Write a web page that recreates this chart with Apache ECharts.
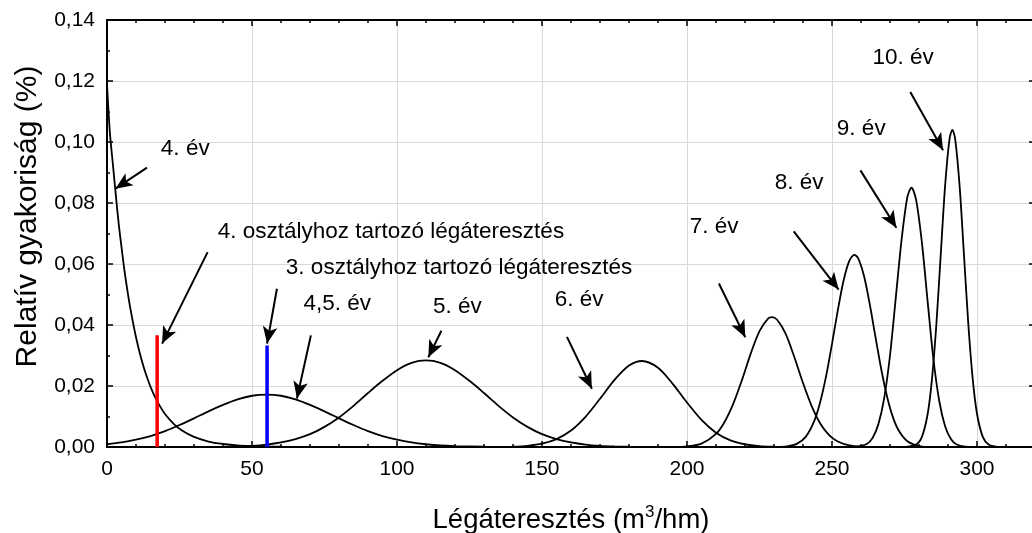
<!DOCTYPE html>
<html>
<head>
<meta charset="utf-8">
<script src="https://cdn.jsdelivr.net/npm/echarts@6/dist/echarts.min.js"></script>
<style>
html,body{margin:0;padding:0;background:#fff;}
#chart{width:1032px;height:533px;}
</style>
</head>
<body>
<div id="chart"></div>
<script>
// ---- data ----
const curve4X  = [0,1,2,3,4,5,6,7,8,10,12,14,16,18,20,23,26,30,35,40,45,50,55,60,70];
const curve4Y  = [0.119,0.103,0.093,0.083,0.0735,0.0655,0.058,0.0515,0.0457,0.036,0.0283,0.0223,0.0175,0.0138,0.0108,0.0076,0.0053,0.0033,0.0018,0.001,0.0005,0.0003,0.0002,0.0001,0];

const curve45X = [0,5,10,15,20,25,30,35,40,45,50,55,60,65,70,75,80,85,90,95,100,105,110,115,120,130,140];
const curve45Y = [0.0009,0.0015,0.0024,0.0036,0.0052,0.0072,0.0094,0.0117,0.0138,0.0156,0.0168,0.0172,0.0168,0.0156,0.0138,0.0117,0.0094,0.0072,0.0052,0.0036,0.0024,0.0015,0.0009,0.0005,0.0003,0.0001,0];

const curve5X  = [40,45,50,55,60,65,70,75,80,85,90,95,100,105,110,115,120,125,130,135,140,145,150,155,160,165,170,175,180];
const curve5Y  = [0.0001,0.0002,0.0004,0.0008,0.0015,0.0026,0.0042,0.0066,0.0097,0.0135,0.0177,0.0217,0.0252,0.0276,0.0284,0.0276,0.0252,0.0217,0.0177,0.0135,0.0097,0.0066,0.0042,0.0026,0.0015,0.0008,0.0004,0.0002,0.0001];

const curve6X  = [140,145,150,155,160,165,170,175,180,184.5,190,195,200,205,210,215,220,225,230,235];
const curve6Y  = [0.0001,0.0004,0.0011,0.0026,0.0054,0.0099,0.0158,0.022,0.0267,0.0282,0.026,0.0208,0.0146,0.0089,0.0047,0.0022,0.0009,0.0003,0.0001,0];

const curve7X  = [195,200,205,210,213,216,219,222,225,228,229.3,231,234,237,240,243,246,249,252,256,260];
const curve7Y  = [0,0.0002,0.0011,0.0043,0.0083,0.0143,0.0221,0.0307,0.038,0.0422,0.0426,0.0418,0.0372,0.0295,0.021,0.0134,0.0076,0.0039,0.0018,0.0005,0.0001];

const curve8X  = [232,235,238,241,244,246,248,250,252,254,256,257.7,259,261,263,265,267,269,271,273,276,280,284];
const curve8Y  = [0,0.0003,0.0011,0.0034,0.0088,0.015,0.0234,0.0338,0.0448,0.0546,0.0611,0.063,0.0619,0.0562,0.0469,0.036,0.0254,0.0165,0.0098,0.0054,0.0019,0.0003,0];

const curve9X  = [258,262,264,266,268,270,272,274,276,277.4,279,281,283,285,287,289,291,293,296,299];
const curve9Y  = [0,0.001,0.003,0.0075,0.016,0.03,0.049,0.068,0.082,0.085,0.081,0.067,0.0475,0.0286,0.015,0.0068,0.0026,0.0008,0.0001,0];

const curve10X = [275,279,281,283,284.5,286,287.5,289,290.5,291.5,292.5,294,295.5,297,298.5,300,302,304,307];
const curve10Y = [0,0.0008,0.0033,0.0109,0.0225,0.0404,0.0631,0.0856,0.1008,0.104,0.1008,0.0856,0.0631,0.0404,0.0225,0.0109,0.0033,0.0008,0];

// class limits (vertical coloured bars): [x, height]
const class4Limit = [17.3, 0.0366];
const class3Limit = [55.2, 0.0333];

// annotation texts and anchors (data units)
const labelTexts = ['4. év','4. osztályhoz tartozó légáteresztés','3. osztályhoz tartozó légáteresztés','4,5. év','5. év','6. év','7. év','8. év','9. év','10. év'];
const labelX     = [18.4, 38.0, 61.5, 67.6, 112.2, 154.2, 200.8, 230.1, 251.5, 263.8];
const labelY     = [0.0979, 0.0704, 0.0586, 0.0468, 0.0461, 0.0481, 0.0723, 0.0866, 0.1042, 0.1276];
// arrows: from (x1,y1) to (x2,y2)
const arrowX1 = [13.8, 34.7, 58.6, 70.3, 115.3, 158.6, 211.0, 236.8, 259.8, 277.0];
const arrowY1 = [0.0916, 0.0639, 0.0519, 0.0366, 0.0381, 0.0361, 0.0536, 0.0707, 0.0907, 0.1164];
const arrowX2 = [2.9, 19.0, 55.2, 65.5, 110.8, 167.2, 220.1, 252.3, 272.2, 288.3];
const arrowY2 = [0.0847, 0.0339, 0.0339, 0.0159, 0.0294, 0.0191, 0.0360, 0.0516, 0.0719, 0.0973];

const xTicks = [0, 320, 50, 10];     // min, max, major, minor
const yTicks = [0, 0.14, 0.02, 0.01];

// ---- chart ----
const FONT = '"Liberation Sans", Arial, sans-serif';
const zip = (xs, ys) => xs.map((x, i) => [x, ys[i]]);
const curves = [
  [curve4X, curve4Y], [curve45X, curve45Y], [curve5X, curve5Y], [curve6X, curve6Y],
  [curve7X, curve7Y], [curve8X, curve8Y], [curve9X, curve9Y], [curve10X, curve10Y]
];

function xAx(pos, interval, major, withLabels) {
  return {
    type: 'value', position: pos, min: xTicks[0], max: xTicks[1], interval: interval,
    axisLine: { show: major, onZero: false, lineStyle: { color: '#000', width: 2 } },
    axisTick: { show: true, inside: true, length: major ? 6 : 3, lineStyle: { color: '#000', width: 1.5 } },
    axisLabel: withLabels ? { show: true, color: '#000', fontSize: 21, fontFamily: FONT, margin: 12, showMaxLabel: false } : { show: false },
    splitLine: { show: withLabels, lineStyle: { color: '#d9d9d9', width: 1 } },
    name: withLabels ? 'Légáteresztés (m{sup|3}/hm)' : '',
    nameLocation: 'middle', nameGap: 57,
    nameTextStyle: { color: '#000', fontSize: 27.5, fontFamily: FONT,
      rich: { sup: { fontSize: 17, verticalAlign: 'top', padding: [0, 0, 15, 0], color: '#000', fontFamily: FONT } } }
  };
}
function yAx(pos, interval, major, withLabels) {
  return {
    type: 'value', position: pos, min: yTicks[0], max: yTicks[1], interval: interval,
    axisLine: { show: major, onZero: false, lineStyle: { color: '#000', width: 2 } },
    axisTick: { show: true, inside: true, length: major ? 6 : 3, lineStyle: { color: '#000', width: 1.5 } },
    axisLabel: withLabels ? { show: true, color: '#000', fontSize: 21, fontFamily: FONT, margin: 12,
      formatter: v => v.toFixed(2).replace('.', ',') } : { show: false },
    splitLine: { show: withLabels, lineStyle: { color: '#d9d9d9', width: 1 } },
    name: withLabels ? 'Relatív gyakoriság (%)' : '',
    nameLocation: 'middle', nameGap: 63,
    nameTextStyle: { color: '#000', fontSize: 30, fontFamily: FONT, padding: [0, 0, 0, 34] }
  };
}

const series = curves.map(c => ({
  type: 'line', data: zip(c[0], c[1]), showSymbol: false, symbol: 'none',
  smooth: 0.3, lineStyle: { color: '#000', width: 1.8 }, silent: true, z: 3
}));
series.push({
  type: 'line', data: [[class4Limit[0], 0], [class4Limit[0], class4Limit[1]]], symbol: 'none',
  lineStyle: { color: '#ff0000', width: 3.5 }, z: 4
});
series.push({
  type: 'line', data: [[class3Limit[0], 0], [class3Limit[0], class3Limit[1]]], symbol: 'none',
  lineStyle: { color: '#0000ff', width: 3.5 }, z: 4
});
series.push({
  type: 'line', data: [], symbol: 'none', z: 5,
  markLine: {
    silent: true, animation: false, symbol: ['none', 'arrow'], symbolSize: [11, 17],
    label: { show: false },
    lineStyle: { color: '#000', width: 2, type: 'solid' },
    emphasis: { disabled: true },
    data: arrowX1.map((x, i) => [{ coord: [x, arrowY1[i]] }, { coord: [arrowX2[i], arrowY2[i]] }])
  }
});
series.push({
  type: 'scatter', data: labelTexts.map((t, i) => [labelX[i], labelY[i], t]),
  symbolSize: 1, itemStyle: { color: 'rgba(0,0,0,0)' }, silent: true, z: 6,
  label: { show: true, position: 'right', distance: 0, formatter: p => p.data[2], opacity: 1,
    color: '#000', fontSize: 22.5, fontFamily: FONT, verticalAlign: 'middle' }
});

const chart = echarts.init(document.getElementById('chart'), null, { renderer: 'canvas' });
chart.setOption({
  animation: false,
  backgroundColor: '#fff',
  grid: { left: 107, right: -3, top: 20, bottom: 86, containLabel: false, outerBoundsMode: 'none' },
  xAxis: [xAx('bottom', xTicks[2], true, true), xAx('bottom', xTicks[3], false, false),
          xAx('top', xTicks[2], true, false), xAx('top', xTicks[3], false, false)],
  yAxis: [yAx('left', yTicks[2], true, true), yAx('left', yTicks[3], false, false),
          yAx('right', yTicks[2], true, false), yAx('right', yTicks[3], false, false)],
  series: series
});
</script>
</body>
</html>
